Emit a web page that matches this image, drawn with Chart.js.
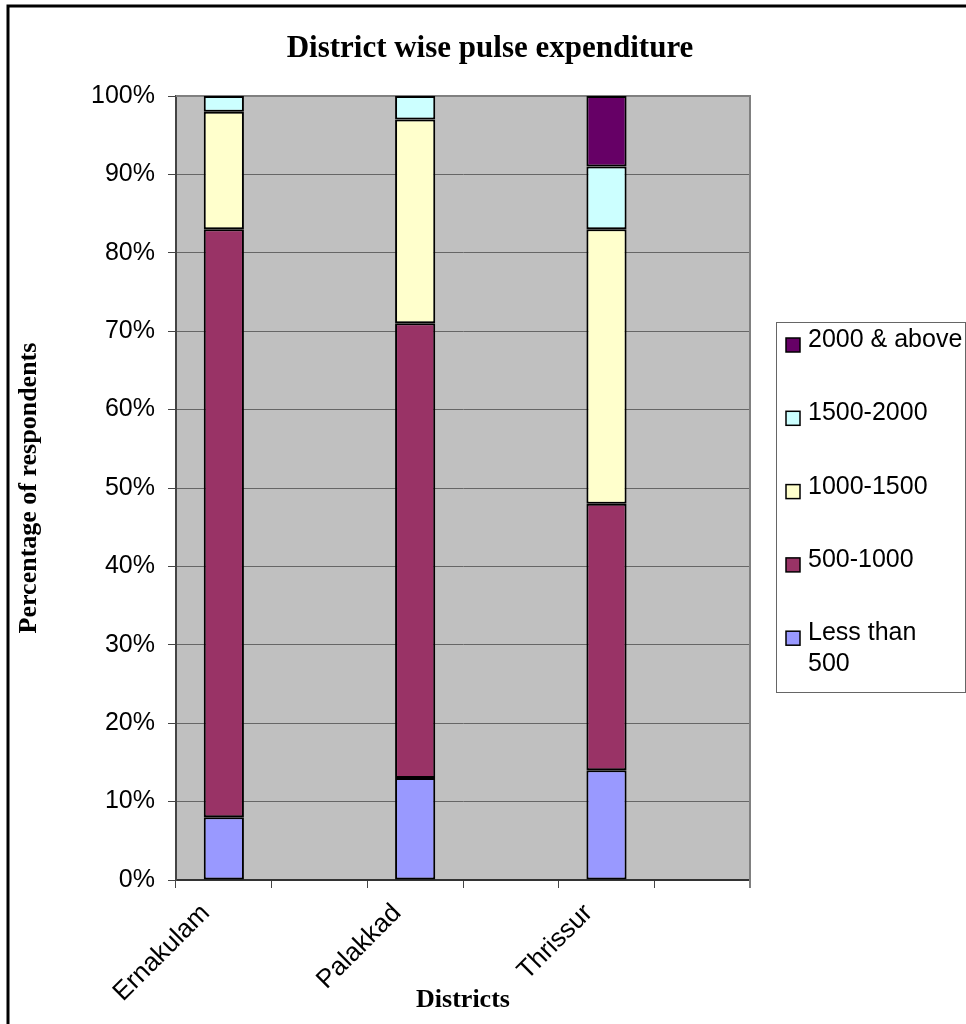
<!DOCTYPE html>
<html>
<head>
    <title>District wise pulse expenditure</title>
    <script src="https://cdn.jsdelivr.net/npm/chart.js"></script>
    <style>
        body { margin: 0; background: #fff; }
    </style>
</head>
<body>
    <canvas id="pulseChart" width="966" height="1024"></canvas>

    <script>
        // empty slots keep the wide gaps between the districts
        const districts = ['Ernakulam', '', 'Palakkad', '', 'Thrissur', ''];

        // share of respondents (%) per monthly pulse expenditure band
        const lessThan500   = [8,  null, 13, null, 14, null];
        const from500       = [75, null, 58, null, 34, null];
        const from1000      = [15, null, 26, null, 35, null];
        const from1500      = [2,  null, 3,  null, 8,  null];
        const above2000     = [0,  null, 0,  null, 9,  null];

        const seriesNames = ['Less than 500', '500-1000', '1000-1500', '1500-2000', '2000 & above'];
        const seriesColors = ['#9999ff', '#993366', '#ffffcc', '#ccffff', '#660066'];
        const percentLabels = ['0%', '10%', '20%', '30%', '40%', '50%', '60%', '70%', '80%', '90%', '100%'];

        Chart.defaults.font.family = '"Liberation Sans", Arial, sans-serif';
        Chart.defaults.color = '#000';

        const seriesValues = [lessThan500, from500, from1000, from1500, above2000];
        const datasets = seriesValues.map((values, i) => ({
            label: seriesNames[i],
            data: values,
            backgroundColor: seriesColors[i],
            borderColor: '#000',
            borderWidth: 2,
            borderSkipped: false,
            barPercentage: 0.42,
            categoryPercentage: 1
        }));

        // splits a legend label into lines that fit the legend box
        function wrapText(ctx, text, maxWidth) {
            const words = text.split(' ');
            const lines = [];
            let line = '';
            words.forEach(w => {
                const test = line ? line + ' ' + w : w;
                if (line && ctx.measureText(test).width > maxWidth) {
                    lines.push(line);
                    line = w;
                } else {
                    line = test;
                }
            });
            lines.push(line);
            return lines;
        }

        const chartDecor = {
            id: 'chartDecor',
            beforeDraw(chart) {
                const { ctx, chartArea: a } = chart;
                ctx.save();
                ctx.fillStyle = '#fff';
                ctx.fillRect(0, 0, chart.width, chart.height);
                ctx.fillStyle = '#c0c0c0';
                ctx.fillRect(a.left, a.top, a.right - a.left, a.bottom - a.top);
                ctx.restore();
            },
            beforeDatasetsDraw(chart) {
                // grey plot border on top and right
                const { ctx, chartArea: a } = chart;
                ctx.save();
                ctx.strokeStyle = '#808080';
                ctx.lineWidth = 2;
                ctx.beginPath();
                ctx.moveTo(a.left, a.top);
                ctx.lineTo(a.right, a.top);
                ctx.lineTo(a.right, a.bottom + 8);
                ctx.stroke();
                ctx.restore();
            },
            afterDraw(chart) {
                const { ctx } = chart;
                ctx.save();

                // outer frame
                ctx.strokeStyle = '#000';
                ctx.lineWidth = 3;
                ctx.strokeRect(8, 6, 1100, 1100);

                // title
                ctx.fillStyle = '#000';
                ctx.font = 'bold 31px "Liberation Serif", "Times New Roman", serif';
                ctx.textAlign = 'center';
                ctx.textBaseline = 'alphabetic';
                ctx.fillText('District wise pulse expenditure', 490, 57);

                // legend box, top entry is the last series
                ctx.strokeStyle = '#666';
                ctx.lineWidth = 1;
                ctx.strokeRect(776.5, 322.5, 189, 370);
                ctx.font = '25px "Liberation Sans", Arial, sans-serif';
                ctx.textAlign = 'left';
                const items = chart.data.datasets.slice().reverse();
                items.forEach((ds, i) => {
                    const baseline = 347 + i * 73.3;
                    ctx.fillStyle = ds.backgroundColor;
                    ctx.fillRect(786, baseline - 9, 14, 14);
                    ctx.strokeStyle = '#000';
                    ctx.lineWidth = 1.5;
                    ctx.strokeRect(786, baseline - 9, 14, 14);
                    ctx.fillStyle = '#000';
                    wrapText(ctx, ds.label, 155.5).forEach((line, j) => {
                        ctx.fillText(line, 808, baseline + j * 31);
                    });
                });
                ctx.restore();
            }
        };

        const ctx = document.getElementById('pulseChart').getContext('2d');
        const pulseChart = new Chart(ctx, {
            type: 'bar',
            data: {
                labels: districts,
                datasets: datasets
            },
            options: {
                responsive: false,
                animation: false,
                events: [],
                layout: {
                    padding: { left: 14, right: 216, top: 96, bottom: 0 }
                },
                plugins: {
                    legend: { display: false },
                    title: { display: false },
                    tooltip: { enabled: false }
                },
                scales: {
                    x: {
                        stacked: true,
                        grid: {
                            drawOnChartArea: false,
                            drawTicks: true,
                            tickLength: 8,
                            tickColor: '#444',
                            offset: true
                        },
                        border: { color: '#333', width: 2 },
                        ticks: {
                            autoSkip: false,
                            minRotation: 45,
                            maxRotation: 45,
                            padding: 10,
                            labelOffset: -18,
                            font: { size: 26 }
                        },
                        title: {
                            display: true,
                            text: 'Districts',
                            font: { family: '"Liberation Serif", "Times New Roman", serif', size: 26, weight: 'bold' },
                            padding: { top: 0, bottom: 8 }
                        },
                        afterFit: scale => { scale.height = 144; }
                    },
                    y: {
                        stacked: true,
                        min: 0,
                        max: 100,
                        grid: {
                            color: '#666',
                            lineWidth: 1,
                            tickLength: 8,
                            tickColor: '#444'
                        },
                        border: { color: '#444', width: 2 },
                        ticks: {
                            stepSize: 10,
                            padding: 13,
                            font: { size: 25 },
                            callback: (value, index) => percentLabels[index]
                        },
                        title: {
                            display: true,
                            text: 'Percentage of respondents',
                            font: { family: '"Liberation Serif", "Times New Roman", serif', size: 26, weight: 'bold' },
                            padding: 0
                        },
                        afterFit: scale => { scale.width = 162; }
                    }
                }
            },
            plugins: [chartDecor]
        });
    </script>
</body>
</html>
